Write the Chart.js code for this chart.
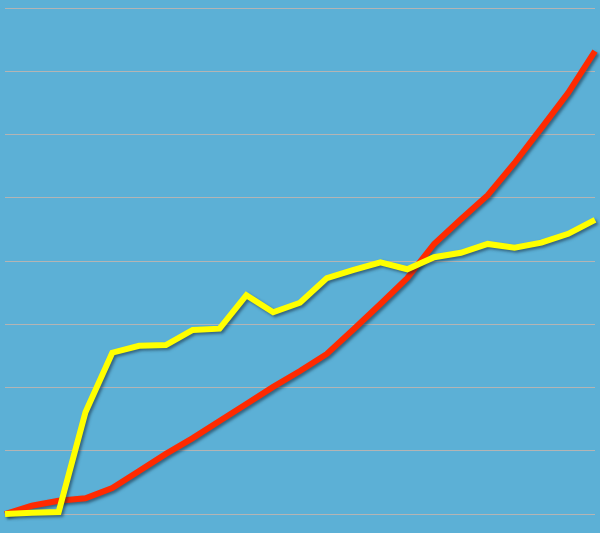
<!DOCTYPE html>
<html>
<head>
<meta charset="utf-8">
<script src="https://cdn.jsdelivr.net/npm/chart.js@4"></script>
<style>
  html, body { margin: 0; padding: 0; background: #5cb0d6; }
  #wrap { width: 600px; height: 533px; }
</style>
</head>
<body>
<div id="wrap"><canvas id="lineChart"></canvas></div>
<script>
const labels = ['1', '2', '3', '4', '5', '6', '7', '8', '9', '10', '11', '12',
    '13', '14', '15', '16', '17', '18', '19', '20', '21', '22', '23'];
const redValues = [0, 0.13, 0.21, 0.25, 0.41, 0.68, 0.95, 1.2, 1.47, 1.74, 2.01, 2.26,
    2.53, 2.92, 3.32, 3.73, 4.27, 4.66, 5.04, 5.55, 6.1, 6.66, 7.32];
const yellowValues = [0, 0.02, 0.03, 1.61, 2.55, 2.66, 2.67, 2.91, 2.93, 3.46, 3.19, 3.34,
    3.73, 3.86, 3.98, 3.87, 4.06, 4.13, 4.27, 4.21, 4.29, 4.43, 4.65];

const lineShadow = {
    id: 'lineShadow',
    beforeDatasetsDraw(chart) {
        const ctx = chart.ctx;
        ctx.save();
        ctx.shadowColor = 'rgba(20, 40, 60, 0.55)';
        ctx.shadowBlur = 3;
        ctx.shadowOffsetX = 2;
        ctx.shadowOffsetY = 2;
    },
    afterDatasetsDraw(chart) {
        chart.ctx.restore();
    }
};

new Chart(document.getElementById('lineChart'), {
    type: 'line',
    data: {
        labels: labels,
        datasets: [{
            label: 'Yellow',
            data: yellowValues,
            borderColor: '#ffff00',
            borderWidth: 6,
            clip: false,
            order: 0
        }, {
            label: 'Red',
            data: redValues,
            borderColor: '#ff2a00',
            borderWidth: 6,
            clip: false,
            order: 1
        }]
    },
    options: {
        responsive: true,
        maintainAspectRatio: false,
        animation: false,
        layout: { padding: { left: 5, right: 5, top: 8, bottom: 19 } },
        elements: {
            point: { radius: 0 },
            line: { tension: 0, borderJoinStyle: 'miter', borderCapStyle: 'butt' }
        },
        plugins: {
            legend: { display: false },
            tooltip: { enabled: false }
        },
        scales: {
            x: { display: false },
            y: {
                min: 0,
                max: 8,
                ticks: { display: false, stepSize: 1 },
                border: { display: false },
                grid: { color: '#b4b4b4', lineWidth: 1, drawTicks: false }
            }
        }
    },
    plugins: [lineShadow]
});
</script>
</body>
</html>
